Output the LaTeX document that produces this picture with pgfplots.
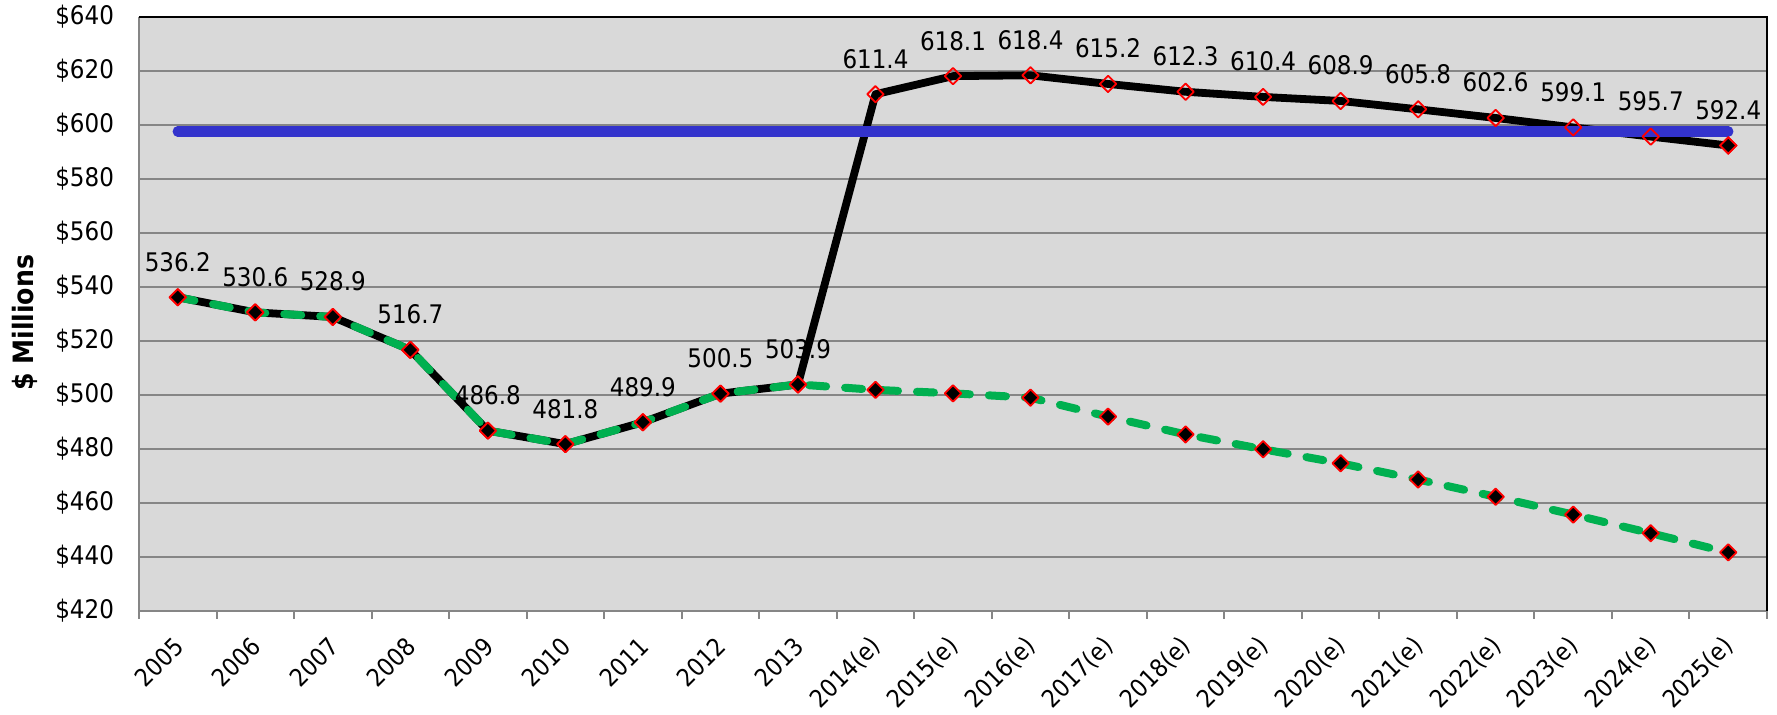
\documentclass[border=0pt]{standalone}
\usepackage{pgfplots}
\pgfplotsset{compat=1.18}
\usepackage{pgfplotstable}
\usepackage{fontspec}
\setmainfont{DejaVu Sans Condensed}

\definecolor{plotbg}{HTML}{D9D9D9}
\definecolor{gridgray}{HTML}{868686}
\definecolor{revblue}{HTML}{3333CC}
\definecolor{basegreen}{HTML}{00B050}

% x: category index, total: actual / estimate, base: without change
\pgfplotstableread{
x total base
0 536.2 536.2
1 530.6 530.6
2 528.9 528.9
3 516.7 516.7
4 486.8 486.8
5 481.8 481.8
6 489.9 489.9
7 500.5 500.5
8 503.9 503.9
9 611.4 501.9
10 618.1 500.6
11 618.4 499.0
12 615.2 492.0
13 612.3 485.4
14 610.4 479.9
15 608.9 474.7
16 605.8 468.7
17 602.6 462.3
18 599.1 455.7
19 595.7 448.8
20 592.4 441.7
}\data

\begin{document}
\begin{tikzpicture}
\begin{axis}[
  scale only axis,
  width=814pt, height=297pt,
  xmin=-0.5, xmax=20.5,
  ymin=420, ymax=640,
  axis background/.style={fill=plotbg},
  axis line style={draw=none},
  xtick={0,...,20},
  xticklabels={2005,2006,2007,2008,2009,2010,2011,2012,2013,2014(e),2015(e),2016(e),2017(e),2018(e),2019(e),2020(e),2021(e),2022(e),2023(e),2024(e),2025(e)},
  minor xtick={-0.5,0.5,...,20.5},
  xtick pos=left, ytick pos=left,
  tick align=outside,
  major tick length=0pt,
  minor tick length=4pt,
  minor tick style={gridgray, line width=1pt},
  xticklabel style={font=\fontsize{12.3}{14}\selectfont, xshift=3pt, yshift=-13pt, rotate=45, anchor=east},
  ytick={420,440,...,640},
  yticklabels={\$420,\$440,\$460,\$480,\$500,\$520,\$540,\$560,\$580,\$600,\$620,\$640},
  yticklabel style={font=\fontsize{12.8}{15}\selectfont, xshift=-9pt},
  ymajorgrids=true,
  major grid style={gridgray, line width=0.75pt},
  ylabel={\$ Millions},
  ylabel style={font=\bfseries\fontsize{14}{16}\selectfont, at={(axis description cs:-0.07,0.485)}, anchor=center},
  clip=false,
]
% data labels first, so that the lines run over them
\addplot[draw=none, mark=none, nodes near coords, point meta=explicit symbolic,
  nodes near coords style={font=\fontsize{12.8}{15}\selectfont, anchor=base, yshift=13pt}]
  table[x=x, y=total, meta=total] {\data};
% frame
\draw[gridgray, line width=1pt] (rel axis cs:0,1) -- (rel axis cs:0,0) -- (rel axis cs:1,0);
\draw[black, line width=1.1pt] (rel axis cs:0,1) -- (rel axis cs:1,1) -- (rel axis cs:1,0);
% actual and estimated total
\addplot[black, line width=3.9pt, line join=round,
  mark=square, mark size=2.9pt,
  mark options={rotate=45, draw=red, fill=none, line width=0.9pt, solid}]
  table[x=x, y=total] {\data};
\addplot[black, only marks, mark=square*, mark size=2.9pt,
  mark options={rotate=45, draw=red, fill=black, line width=0.9pt}]
  coordinates {(20,592.4)};
% base without change
\addplot[basegreen, line width=4pt, line cap=round, line join=round,
  dash pattern=on 8.5pt off 9.5pt,
  mark=square*, mark size=2.9pt,
  mark options={rotate=45, draw=red, fill=black, line width=0.9pt, solid}]
  table[x=x, y=base] {\data};
% level line
\addplot[revblue, line width=5.2pt, line cap=round, mark=none]
  coordinates {(0,597.6) (20,597.6)};
\coordinate (o) at (rel axis cs:0,0);
\coordinate (t) at (rel axis cs:1,1);
\end{axis}
\pgfresetboundingbox
\path[use as bounding box] ([xshift=-69.5pt,yshift=-52pt]o) rectangle ([xshift=5pt,yshift=8.5pt]t);
\end{tikzpicture}
\end{document}
